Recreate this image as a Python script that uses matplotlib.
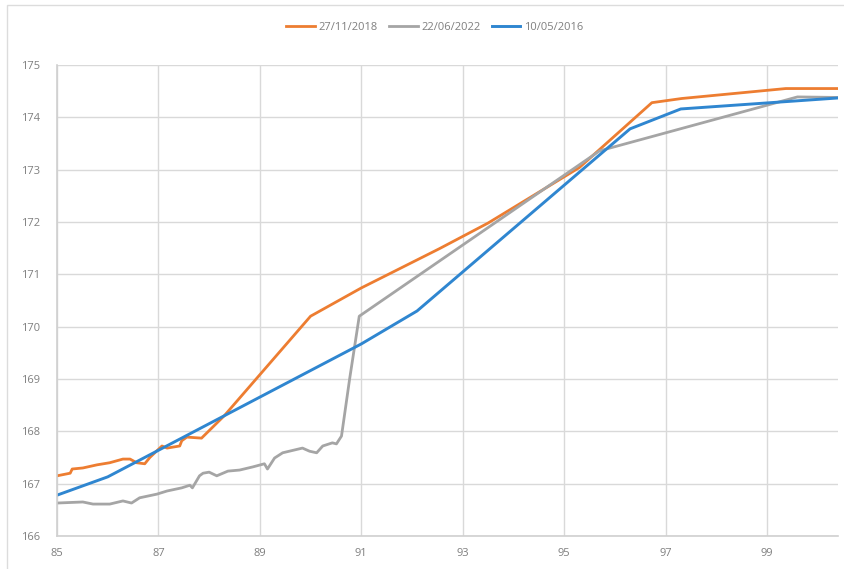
import numpy as np
import matplotlib.pyplot as plt
from matplotlib.patches import Rectangle

plt.rcParams["font.family"] = ["Open Sans", "DejaVu Sans"]

# --- data ---
x_2018 = [85.0, 85.26, 85.3, 85.51, 85.79, 86.04, 86.3, 86.44, 86.57, 86.73, 86.83,
          87.07, 87.17, 87.42, 87.46, 87.56, 87.85, 88.3, 90.0, 91.0, 92.54, 93.5,
          95.3, 96.73, 97.32, 99.37, 100.4]
y_2018 = [167.15, 167.2, 167.28, 167.3, 167.36, 167.4, 167.47, 167.47, 167.4, 167.38, 167.5,
          167.72, 167.68, 167.72, 167.82, 167.89, 167.87, 168.3, 170.2, 170.74, 171.49, 171.98,
          173.04, 174.28, 174.36, 174.55, 174.55]

x_2022 = [85.0, 85.51, 85.71, 86.04, 86.3, 86.47, 86.63, 86.97, 87.17, 87.46, 87.62,
          87.67, 87.81, 87.88, 88.0, 88.15, 88.37, 88.6, 88.86, 89.09, 89.15, 89.29,
          89.45, 89.84, 89.98, 90.12, 90.24, 90.43, 90.51, 90.61, 90.77, 90.96,
          95.7, 99.6, 100.4]
y_2022 = [166.63, 166.65, 166.61, 166.61, 166.67, 166.63, 166.73, 166.8, 166.86, 166.92, 166.97,
          166.92, 167.15, 167.2, 167.22, 167.15, 167.24, 167.26, 167.32, 167.38, 167.28, 167.49,
          167.59, 167.68, 167.62, 167.59, 167.72, 167.78, 167.76, 167.91, 169.0, 170.2,
          173.36, 174.39, 174.38]

x_2016 = [85.0, 86.0, 91.0, 92.1, 96.3, 97.3, 100.4]
y_2016 = [166.78, 167.13, 169.67, 170.3, 173.78, 174.16, 174.37]

fig = plt.figure(figsize=(8.44, 5.69), dpi=100)
ax = fig.add_axes([57/844, 1 - 536/569, (838 - 57)/844, (536 - 65)/569])

# light chart border like the spreadsheet frame
fig.patches.append(Rectangle((7/844, -0.1), 1.2, 1 - 5/569 + 0.1,
                             transform=fig.transFigure, fill=False,
                             edgecolor="#DCDCDC", lw=1.0))

ax.plot(x_2018, y_2018, color="#ED7D31", lw=2.0, label="27/11/2018")
ax.plot(x_2022, y_2022, color="#A5A5A5", lw=2.0, label="22/06/2022")
ax.plot(x_2016, y_2016, color="#2F86D0", lw=2.1, label="10/05/2016")

ax.set_xlim(85, 100.4)
ax.set_ylim(166, 175)
ax.set_xticks(np.arange(85, 100, 2))
ax.set_yticks(np.arange(166, 176, 1))
ax.grid(True, color="#D9D9D9", lw=1.0)
ax.set_axisbelow(True)

for side in ["top", "right"]:
    ax.spines[side].set_visible(False)
for side in ["left", "bottom"]:
    ax.spines[side].set_color("#D0D0D0")
    ax.spines[side].set_linewidth(1.2)

ax.tick_params(length=0, colors="#7F7F7F", labelsize=8)
ax.tick_params(axis="y", pad=12)
ax.tick_params(axis="x", pad=9)

fig.legend(loc="center", bbox_to_anchor=(0.515, 1 - 27/569), ncol=3,
           frameon=False, fontsize=8, handlelength=2.6, columnspacing=1.0,
           handletextpad=0.3, labelcolor="#7F7F7F")

plt.savefig("out.png", dpi=100)
